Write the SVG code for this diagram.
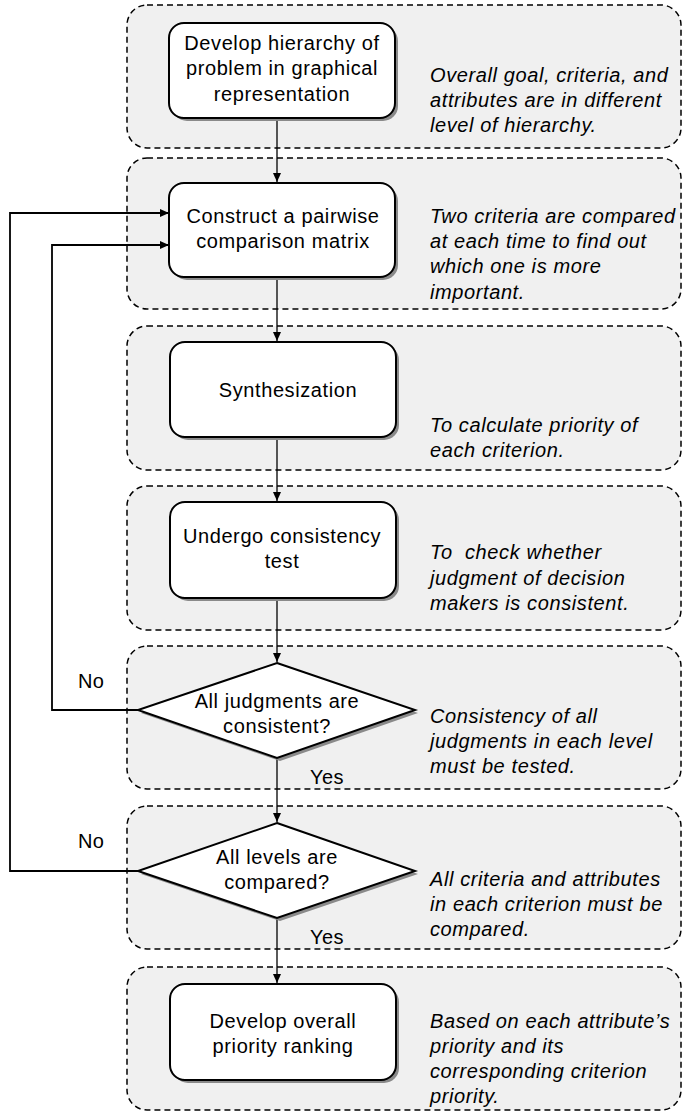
<svg xmlns="http://www.w3.org/2000/svg" width="683" height="1113" viewBox="0 0 683 1113">
<defs>
<style>
.panel{fill:#f0f0f0;stroke:#000;stroke-width:1.5;stroke-dasharray:6 4}
.box{fill:#fff;stroke:#000;stroke-width:2}
.shadow{fill:#8a8a8a;stroke:none}
.t{font-family:"Liberation Sans",Arial,sans-serif;font-size:20px;letter-spacing:0.6px;fill:#000;text-anchor:middle}
.n{font-family:"Liberation Sans",Arial,sans-serif;font-size:20px;letter-spacing:0.4px;fill:#000}
.i{font-family:"Liberation Sans",Arial,sans-serif;font-size:20px;letter-spacing:0.6px;font-style:italic;fill:#000}
.c{fill:none;stroke:#000;stroke-width:1.3}
.fb{fill:none;stroke:#000;stroke-width:1.8}
</style>
<marker id="ah" markerWidth="10" markerHeight="10" refX="9" refY="5" orient="auto" markerUnits="userSpaceOnUse">
<path d="M0,1 L9,5 L0,9 Z" fill="#000"/>
</marker>
</defs>
<g id="panels">
<rect class="panel" x="127" y="5" width="554" height="143" rx="20"/>
<rect class="panel" x="127" y="158" width="554" height="151" rx="20"/>
<rect class="panel" x="127" y="326" width="554" height="144" rx="20"/>
<rect class="panel" x="127" y="486" width="554" height="144" rx="20"/>
<rect class="panel" x="127" y="646" width="554" height="143" rx="20"/>
<rect class="panel" x="127" y="806" width="554" height="143" rx="20"/>
<rect class="panel" x="127" y="967" width="554" height="143" rx="20"/>
</g>
<g id="connectors">
<path class="c" d="M277,118 V182" marker-end="url(#ah)"/>
<path class="c" d="M277,277 V341" marker-end="url(#ah)"/>
<path class="c" d="M277,437 V501" marker-end="url(#ah)"/>
<path class="c" d="M277,598 V662" marker-end="url(#ah)"/>
<path class="c" d="M277,758 V822" marker-end="url(#ah)"/>
<path class="c" d="M277,918 V983" marker-end="url(#ah)"/>
<path class="fb" d="M138,710 H52 V245 H169" marker-end="url(#ah)"/>
<path class="fb" d="M138,871 H10 V213 H169" marker-end="url(#ah)"/>
<text class="n" x="78" y="688">No</text>
<text class="n" x="78" y="848">No</text>
<text class="n" x="310" y="784">Yes</text>
<text class="n" x="310" y="944">Yes</text>
</g>
<g id="n1">
<rect class="shadow" x="172" y="26" width="226" height="95" rx="15"/>
<rect class="box" x="169" y="23" width="226" height="95" rx="15"/>
<text class="t" x="282" y="50">Develop hierarchy of</text>
<text class="t" x="282" y="75">problem in graphical</text>
<text class="t" x="282" y="101">representation</text>
<text class="i" x="430" y="82">Overall goal, criteria, and</text>
<text class="i" x="430" y="107">attributes are in different</text>
<text class="i" x="430" y="132">level of hierarchy.</text>
</g>
<g id="n2">
<rect class="shadow" x="172" y="186" width="226" height="94" rx="15"/>
<rect class="box" x="169" y="183" width="226" height="94" rx="15"/>
<text class="t" x="283" y="223">Construct a pairwise</text>
<text class="t" x="283" y="248">comparison matrix</text>
<text class="i" x="430" y="223">Two criteria are compared</text>
<text class="i" x="430" y="248">at each time to find out</text>
<text class="i" x="430" y="273">which one is more</text>
<text class="i" x="430" y="299">important.</text>
</g>
<g id="n3">
<rect class="shadow" x="173" y="345" width="226" height="95" rx="15"/>
<rect class="box" x="170" y="342" width="226" height="95" rx="15"/>
<text class="t" x="288" y="397">Synthesization</text>
<text class="i" x="430" y="432">To calculate priority of</text>
<text class="i" x="430" y="457">each criterion.</text>
</g>
<g id="n4">
<rect class="shadow" x="173" y="505" width="226" height="96" rx="15"/>
<rect class="box" x="170" y="502" width="226" height="96" rx="15"/>
<text class="t" x="282" y="543">Undergo consistency</text>
<text class="t" x="282" y="568">test</text>
<text class="i" x="430" y="559" style="white-space:pre">To  check whether</text>
<text class="i" x="430" y="585">judgment of decision</text>
<text class="i" x="430" y="610">makers is consistent.</text>
</g>
<g id="n5">
<polygon class="shadow" points="280,666 418,713 280,761 141,713"/>
<polygon class="box" points="277,663 415,710 277,758 138,710"/>
<text class="t" x="277" y="708">All judgments are</text>
<text class="t" x="277" y="733">consistent?</text>
<text class="i" x="430" y="723">Consistency of all</text>
<text class="i" x="430" y="748">judgments in each level</text>
<text class="i" x="430" y="773">must be tested.</text>
</g>
<g id="n6">
<polygon class="shadow" points="280,826 418,874 280,921 141,874"/>
<polygon class="box" points="277,823 415,871 277,918 138,871"/>
<text class="t" x="277" y="864">All levels are</text>
<text class="t" x="277" y="889">compared?</text>
<text class="i" x="430" y="886">All criteria and attributes</text>
<text class="i" x="430" y="911">in each criterion must be</text>
<text class="i" x="430" y="936">compared.</text>
</g>
<g id="n7">
<rect class="shadow" x="173" y="987" width="226" height="96" rx="15"/>
<rect class="box" x="170" y="984" width="226" height="96" rx="15"/>
<text class="t" x="283" y="1028">Develop overall</text>
<text class="t" x="283" y="1053">priority ranking</text>
<text class="i" x="430" y="1028">Based on each attribute’s</text>
<text class="i" x="430" y="1053">priority and its</text>
<text class="i" x="430" y="1078">corresponding criterion</text>
<text class="i" x="430" y="1103">priority.</text>
</g>
</svg>
